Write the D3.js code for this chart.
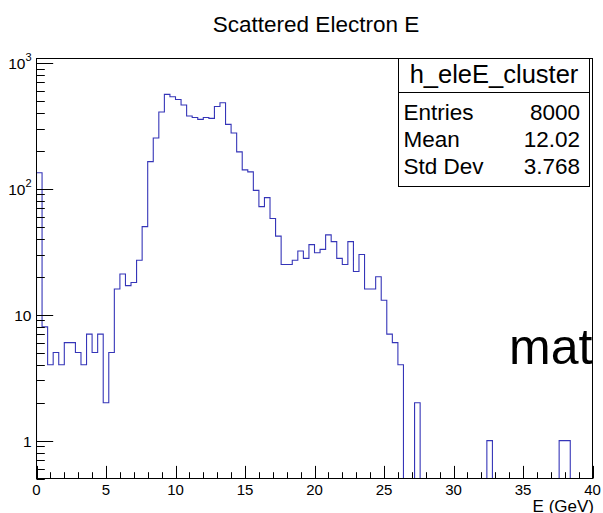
<!DOCTYPE html>
<html><head><meta charset="utf-8">
<script src="https://cdn.jsdelivr.net/npm/d3@7"></script>
<style>html,body{margin:0;padding:0;background:#fff}svg{display:block}</style>
</head><body><svg id="c" width="603" height="513"></svg>
<script>
// ---- data ----
const title = "Scattered Electron E";
const xLabel = "E (GeV)";
const histName = "h_eleE_cluster";
const xMin = 0, xMax = 40, nBins = 100;
const counts = [
  134, 8, 4, 5, 4, 6, 6, 5, 4, 7,
  5, 7, 2, 5, 16, 21, 17, 18, 27, 50,
  164, 253, 406, 561, 537, 511, 462, 378, 368, 355,
  368, 362, 450, 482, 324, 277, 196, 141, 136, 97,
  72, 85, 58, 42, 25, 25, 27, 32, 28, 36,
  31, 33, 43, 38, 28, 25, 38, 22, 30, 16,
  16, 20, 13, 7, 6, 4, 0, 0, 2, 0,
  0, 0, 0, 0, 0, 0, 0, 0, 0, 0,
  0, 1, 0, 0, 0, 0, 0, 0, 0, 0,
  0, 0, 0, 0, 1, 1, 0, 0, 0, 0
];
const xTickValues = [0, 5, 10, 15, 20, 25, 30, 35, 40];
const xTickLabels = ["0", "5", "10", "15", "20", "25", "30", "35", "40"];
const yTickValues = [1, 10, 100, 1000];
const yTickBase = ["1", "10", "10", "10"];
const yTickExp = ["", "", "2", "3"];
const statsLabels = ["Entries", "Mean", "Std Dev"];
const statsValues = ["8000", "12.02", "3.768"];
const overlayText = "mat";
const yDomain = [0.5, 1081];

// ---- layout ----
const W = 603, H = 513;
const L = 36.5, R = 592.5, T = 58.5, B = 478.5;
const font = "'Liberation Sans', Arial, Helvetica, sans-serif";
const lineColor = "#3535b8";

const svg = d3.select("#c");
svg.append("rect").attr("width", W).attr("height", H).attr("fill", "#fff");

const x = d3.scaleLinear().domain([xMin, xMax]).range([L, R]);
const y = d3.scaleLog().domain(yDomain).range([B, T]);

// title
svg.append("text").attr("x", 316).attr("y", 32).attr("text-anchor", "middle")
  .attr("font-family", font).attr("font-size", 22.5).attr("fill", "#000").text(title);

// histogram
svg.append("clipPath").attr("id", "clip").append("rect")
  .attr("x", L).attr("y", T).attr("width", R - L).attr("height", B - T);
const bw = (xMax - xMin) / nBins;
const yv = v => v > 0 ? y(v) : B + 1;
let pts = [[x(xMin), B + 1]];
counts.forEach((v, i) => {
  const x0 = x(xMin + i * bw), x1 = x(xMin + (i + 1) * bw);
  pts.push([x0, yv(v)], [x1, yv(v)]);
});
pts.push([x(xMax), B + 1]);
svg.append("path").attr("d", d3.line()(pts)).attr("fill", "none")
  .attr("stroke", lineColor).attr("stroke-width", 1.1).attr("clip-path", "url(#clip)");

// frame
svg.append("rect").attr("x", L).attr("y", T).attr("width", R - L).attr("height", B - T)
  .attr("fill", "none").attr("stroke", "#000").attr("stroke-width", 1);

// x axis ticks (inside, upward)
const xMajLen = 12.6, xMinLen = 6.3;
const gx = svg.append("g").attr("stroke", "#000").attr("stroke-width", 1);
d3.range(xMin, xMax + 0.001, 1).forEach(v => {
  const isMaj = xTickValues.includes(v);
  const px = Math.round(x(v)) + 0.5;
  gx.append("line").attr("x1", px).attr("x2", px).attr("y1", B).attr("y2", B - (isMaj ? xMajLen : xMinLen));
});
xTickValues.forEach((v, i) => {
  svg.append("text").attr("x", x(v)).attr("y", 495).attr("text-anchor", "middle")
    .attr("font-family", font).attr("font-size", 15).attr("fill", "#000").text(xTickLabels[i]);
});
svg.append("text").attr("x", 594).attr("y", 511.5).attr("text-anchor", "end")
  .attr("font-family", font).attr("font-size", 17).attr("fill", "#000").text(xLabel);

// y axis ticks (inside, rightward)
const yMajLen = 16.7, yMinLen = 8.3;
const gy = svg.append("g").attr("stroke", "#000").attr("stroke-width", 1);
const yMinor = [];
for (let e = -1; e <= 3; e++) {
  for (let m = 1; m <= 9; m++) {
    const v = m * Math.pow(10, e);
    if (v >= yDomain[0] && v <= yDomain[1]) yMinor.push(v);
  }
}
yMinor.forEach(v => {
  const isMaj = yTickValues.some(t => Math.abs(t - v) < 1e-9);
  const py = Math.round(y(v)) + 0.5;
  gy.append("line").attr("x1", L).attr("x2", L + (isMaj ? yMajLen : yMinLen)).attr("y1", py).attr("y2", py);
});
yTickValues.forEach((v, i) => {
  const t = svg.append("text").attr("x", 31.5).attr("y", y(v) + 6).attr("text-anchor", "end")
    .attr("font-family", font).attr("font-size", 15.5).attr("fill", "#000");
  t.append("tspan").text(yTickBase[i]);
  if (yTickExp[i]) t.append("tspan").attr("dy", -8).attr("font-size", 11).text(yTickExp[i]);
});

// stats box
const sx = 398.5, sy = 58.5, sw = 191, sh = 128;
svg.append("rect").attr("x", sx).attr("y", sy).attr("width", sw).attr("height", sh)
  .attr("fill", "#fff").attr("stroke", "#000").attr("stroke-width", 1);
svg.append("line").attr("x1", sx).attr("x2", sx + sw).attr("y1", 92.5).attr("y2", 92.5)
  .attr("stroke", "#000").attr("stroke-width", 1);
svg.append("text").attr("x", sx + sw / 2).attr("y", 82.5).attr("text-anchor", "middle")
  .attr("font-family", font).attr("font-size", 25.5).attr("fill", "#000").text(histName);
const rowY = [119.5, 146.5, 173.5];
statsLabels.forEach((s, i) => {
  svg.append("text").attr("x", 403.5).attr("y", rowY[i]).attr("font-family", font)
    .attr("font-size", 22.5).attr("fill", "#000").text(s);
  svg.append("text").attr("x", 580).attr("y", rowY[i]).attr("text-anchor", "end").attr("font-family", font)
    .attr("font-size", 22.5).attr("fill", "#000").text(statsValues[i]);
});

// overlay text
svg.append("text").attr("x", 509).attr("y", 363.5).attr("font-family", font)
  .attr("font-size", 50).attr("fill", "#000").text(overlayText);
</script>
</body></html>
